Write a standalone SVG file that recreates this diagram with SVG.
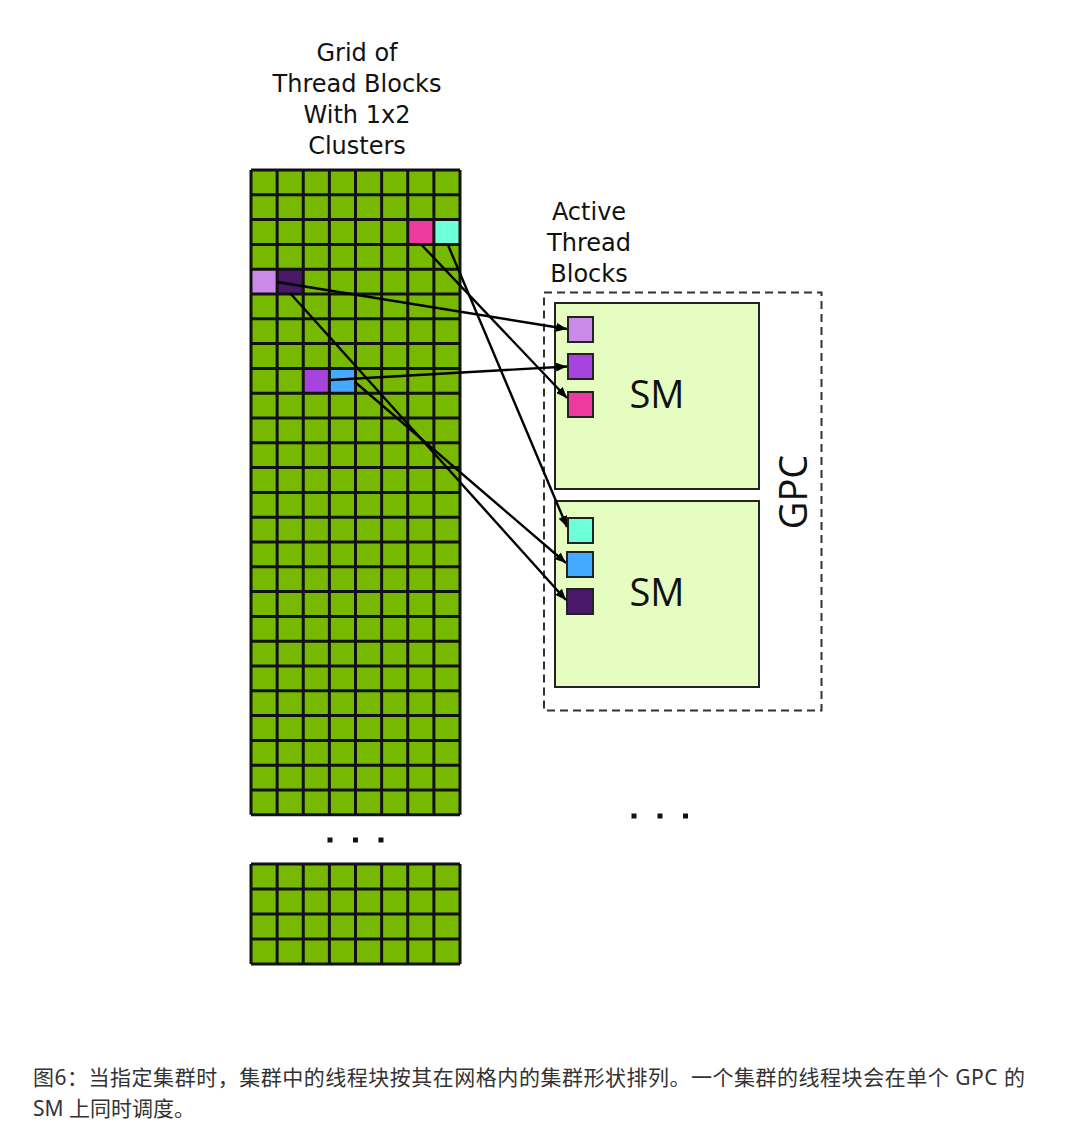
<svg xmlns="http://www.w3.org/2000/svg" width="1080" height="1124" viewBox="0 0 1080 1124">
<style>
.title{font-family:"DejaVu Sans","Liberation Sans",sans-serif;font-size:24px;fill:#111;text-anchor:middle}
.sm{font-family:"Open Sans","Noto Sans",sans-serif;font-size:38px;fill:#111;text-anchor:middle}
.cap{font-family:"Noto Sans","Noto Sans CJK SC",sans-serif;font-size:21px;fill:#333}
.gl{stroke:#111;stroke-width:3;fill:none}
.conn{stroke:#000;stroke-width:2.4;fill:none;marker-end:url(#ah)}
.smbox{fill:#e6fdc2;stroke:#222;stroke-width:2}
.blk{stroke:#222;stroke-width:2}
.dot{fill:#111}
</style>
<defs>
<marker id="ah" viewBox="0 0 11 9" refX="11" refY="4.5" markerWidth="11" markerHeight="9" markerUnits="userSpaceOnUse" orient="auto">
<path d="M0,0 L11,4.5 L0,9 Z" fill="#000"/>
</marker>
</defs>
<rect width="1080" height="1124" fill="#fff"/>

<g id="title-grid">
<text class="title" x="357" y="61">Grid of</text>
<text class="title" x="357" y="92">Thread Blocks</text>
<text class="title" x="357" y="123">With 1x2</text>
<text class="title" x="357" y="154">Clusters</text>
</g>

<g id="grid-main">
<rect x="251" y="170" width="209" height="644.8" fill="#76b900"/>
<rect x="407.75" y="219.6" width="26.13" height="24.8" fill="#ee3a9e"/>
<rect x="433.88" y="219.6" width="26.12" height="24.8" fill="#6dffd8"/>
<rect x="251" y="269.2" width="26.13" height="24.8" fill="#c98ae8"/>
<rect x="277.13" y="269.2" width="26.12" height="24.8" fill="#4a1868"/>
<rect x="303.25" y="368.4" width="26.13" height="24.8" fill="#a844de"/>
<rect x="329.38" y="368.4" width="26.12" height="24.8" fill="#44aaff"/>
<path class="gl" d="M251,170V814.8M277.13,170V814.8M303.25,170V814.8M329.38,170V814.8M355.5,170V814.8M381.63,170V814.8M407.75,170V814.8M433.88,170V814.8M460,170V814.8
M251,170H460M251,194.8H460M251,219.6H460M251,244.4H460M251,269.2H460M251,294H460M251,318.8H460M251,343.6H460M251,368.4H460M251,393.2H460M251,418H460M251,442.8H460M251,467.6H460M251,492.4H460M251,517.2H460M251,542H460M251,566.8H460M251,591.6H460M251,616.4H460M251,641.2H460M251,666H460M251,690.8H460M251,715.6H460M251,740.4H460M251,765.2H460M251,790H460M251,814.8H460"/>
</g>

<g id="grid-dots">
<rect class="dot" x="327.5" y="837.5" width="5" height="5"/>
<rect class="dot" x="353" y="837.5" width="5" height="5"/>
<rect class="dot" x="378.5" y="837.5" width="5" height="5"/>
</g>

<g id="grid-bottom">
<rect x="251" y="864" width="209" height="100" fill="#76b900"/>
<path class="gl" d="M251,864V964M277.13,864V964M303.25,864V964M329.38,864V964M355.5,864V964M381.63,864V964M407.75,864V964M433.88,864V964M460,864V964
M251,864H460M251,889H460M251,914H460M251,939H460M251,964H460"/>
</g>

<g id="title-active">
<text class="title" x="589" y="220">Active</text>
<text class="title" x="589" y="251">Thread</text>
<text class="title" x="589" y="282">Blocks</text>
</g>

<g id="gpc">
<rect x="544" y="292.5" width="277.5" height="418" fill="none" stroke="#333" stroke-width="2" stroke-dasharray="8 5"/>
<text class="sm" transform="translate(807,492) rotate(-90)">GPC</text>
</g>

<g id="sm-top">
<rect class="smbox" x="555" y="303" width="204" height="186"/>
<text class="sm" x="657" y="408">SM</text>
<rect class="blk" x="568" y="317" width="25" height="25" fill="#c98ae8"/>
<rect class="blk" x="568" y="354" width="25" height="25" fill="#a844de"/>
<rect class="blk" x="568" y="392" width="25" height="25" fill="#ee3a9e"/>
</g>

<g id="sm-bottom">
<rect class="smbox" x="555" y="501" width="204" height="186"/>
<text class="sm" x="657" y="606">SM</text>
<rect class="blk" x="568" y="518" width="25" height="25" fill="#6dffd8"/>
<rect class="blk" x="567" y="552" width="26" height="25" fill="#44aaff"/>
<rect class="blk" x="567" y="589" width="26" height="25" fill="#4a1868"/>
</g>

<g id="connectors">
<line class="conn" x1="277" y1="282" x2="567" y2="329"/>
<line class="conn" x1="290" y1="293" x2="566" y2="600"/>
<line class="conn" x1="331" y1="380" x2="567" y2="366.5"/>
<line class="conn" x1="355" y1="382" x2="566" y2="563"/>
<line class="conn" x1="421.7" y1="245" x2="567" y2="398"/>
<line class="conn" x1="448" y1="245" x2="567" y2="527"/>
</g>

<g id="dots-right">
<rect class="dot" x="631.5" y="813.5" width="5" height="5"/>
<rect class="dot" x="657.5" y="813.5" width="5" height="5"/>
<rect class="dot" x="683" y="813.5" width="5" height="5"/>
</g>

<g id="caption">
<text class="cap" x="33" y="1085" textLength="992" lengthAdjust="spacing">图6：当指定集群时，集群中的线程块按其在网格内的集群形状排列。一个集群的线程块会在单个 GPC 的</text>
<text class="cap" x="33" y="1116">SM 上同时调度。</text>
</g>
</svg>
